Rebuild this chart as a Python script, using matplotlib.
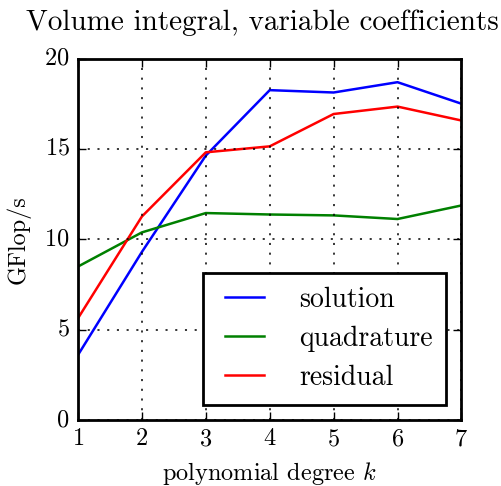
import numpy as np
import matplotlib
matplotlib.use("Agg")
import matplotlib.pyplot as plt

plt.style.use("classic")
plt.rcParams["font.family"] = "serif"
plt.rcParams["font.serif"] = ["cmr10"]
plt.rcParams["mathtext.fontset"] = "cm"
plt.rcParams["axes.formatter.use_mathtext"] = True
plt.rcParams["axes.unicode_minus"] = False

# GFlop/s per polynomial degree
degree = [1, 2, 3, 4, 5, 6, 7]
solution = [3.6, 9.3, 14.63, 18.25, 18.12, 18.69, 17.5]
quadrature = [8.49, 10.38, 11.45, 11.37, 11.32, 11.12, 11.87]
residual = [5.63, 11.26, 14.81, 15.14, 16.93, 17.34, 16.57]

fig = plt.figure(figsize=(5.01, 4.86), dpi=100, facecolor="white")
ax = fig.add_axes([0.1557, 0.1358, 0.7653, 0.7438])

ax.plot(degree, solution, color="b", lw=1.8, label="solution")
ax.plot(degree, quadrature, color="g", lw=1.8, label="quadrature")
ax.plot(degree, residual, color="r", lw=1.8, label="residual")

ax.set_xlim(1, 7)
ax.set_ylim(0, 20)
ax.set_xticks(range(1, 8))
ax.set_yticks([0, 5, 10, 15, 20])
ax.grid(True, color="k", linestyle=(0, (1.5, 5.5)), linewidth=1.1)
for s in ax.spines.values():
    s.set_linewidth(2)
ax.tick_params(labelsize=17.5, length=6, width=1, pad=6)

ax.set_title("Volume integral, variable coefficients", fontsize=21,
             x=0.482, y=1.06)
ax.set_xlabel(r"polynomial degree $k$", fontsize=17.5, labelpad=7)
ax.set_ylabel("GFlop/s", fontsize=17.5, labelpad=10)

leg = ax.legend(loc="lower right", fontsize=20, handlelength=2.0,
                handletextpad=0.95, borderpad=0.5, labelspacing=0.45,
                borderaxespad=0.55, fancybox=False)
leg.get_frame().set_linewidth(2)

fig.savefig("out.png", dpi=100, facecolor="white")
